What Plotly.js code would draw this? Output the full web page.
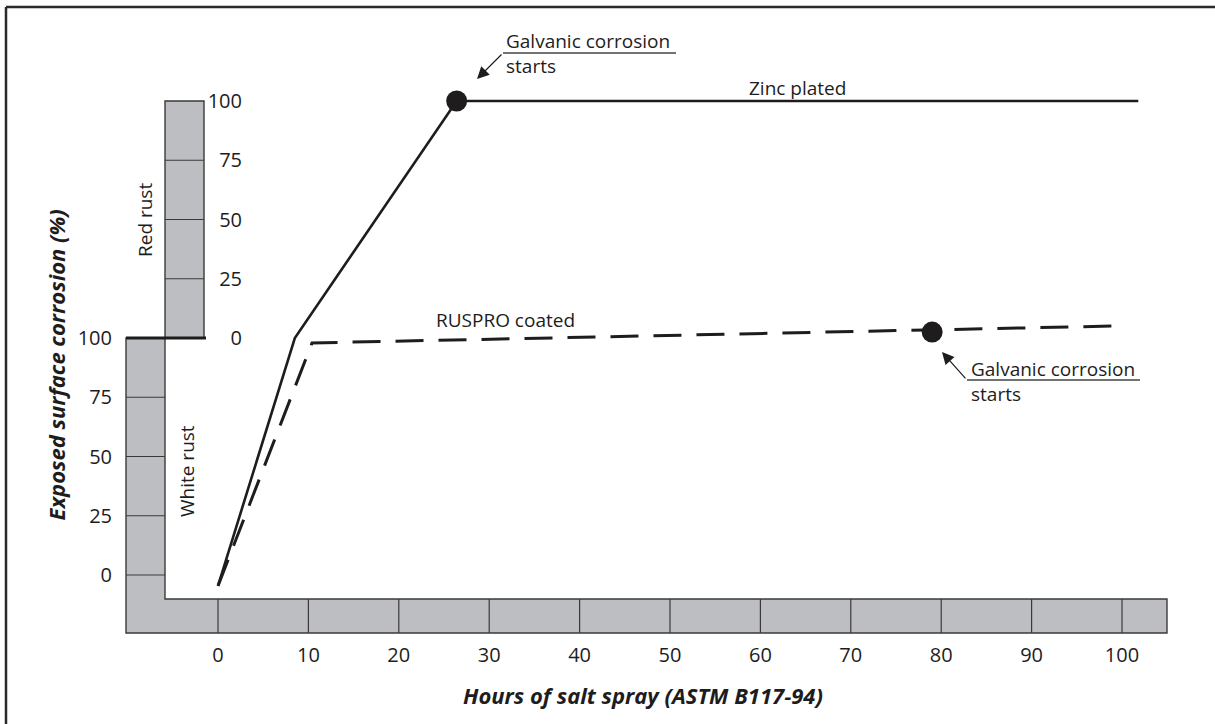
<!DOCTYPE html>
<html>
<head>
<meta charset="utf-8">
<script src="https://cdn.plot.ly/plotly-3.0.1.min.js"></script>
<style>
  html, body { margin: 0; padding: 0; background: #ffffff; }
  #chart { width: 1215px; height: 724px; }
</style>
</head>
<body>
<div id="chart"></div>
<script>
// ---------- data ----------
const hourTicks = [0, 10, 20, 30, 40, 50, 60, 70, 80, 90, 100];
const hourTickText = ['0', '10', '20', '30', '40', '50', '60', '70', '80', '90', '100'];

// stacked corrosion scale: white rust 0-100 below, red rust 0-100 stacked above (offset 100)
const whiteRustTicks = [0, 25, 50, 75, 100];
const whiteRustTickText = ['0', '25', '50', '75', '100'];
const redRustTicks = [100, 125, 150, 175, 200];
const redRustTickText = ['0', '25', '50', '75', '100'];

const zincHours = [0, 8.5, 26.4, 101.8];
const zincCorrosion = [-4.6, 100, 200, 200];

const rusproHours = [0, 10.4, 99.6];
const rusproCorrosion = [-4.6, 97.9, 105.1];

const galvanicHours = [26.4, 79];
const galvanicCorrosion = [200, 102.5];

// ---------- pixel helpers for layout positions ----------
const W = 1215, H = 724;
const PX_X = 9.04, X0 = 218;     // px per hour, px of hour 0
const PX_Y = 2.37, Y0 = 575;     // px per %, px of white 0
const fx = p => (p - X0) / PX_X;
const fy = p => (Y0 - p) / PX_Y;

const ink = '#1e1c1d';
const gray = '#bdbec1';
const edge = '#3a3a3a';
const FONT = '"Open Sans", Lato, sans-serif';

// ---------- shapes ----------
const xL = fx(126), xM = fx(165), xRed = fx(204), xBandR = fx(1167);
const yBandTop = fy(599), yBandBot = fy(633);

const shapes = [];
// L-shaped white rust / hours band
shapes.push({
  type: 'path', xref: 'x', yref: 'y', layer: 'below',
  path: `M${xL},100 L${xM},100 L${xM},${yBandTop} L${xBandR},${yBandTop} L${xBandR},${yBandBot} L${xL},${yBandBot} Z`,
  fillcolor: gray, line: { color: edge, width: 1.4 }
});
// red rust column
shapes.push({
  type: 'rect', xref: 'x', yref: 'y', layer: 'below',
  x0: xM, x1: xRed, y0: 100, y1: 200,
  fillcolor: gray, line: { color: edge, width: 1.4 }
});
// cell dividers along hours band
hourTicks.forEach(h => shapes.push({
  type: 'line', xref: 'x', yref: 'y', layer: 'below',
  x0: h, x1: h, y0: yBandTop, y1: yBandBot, line: { color: edge, width: 1.2 }
}));
// cell dividers in white rust column
whiteRustTicks.filter(v => v < 100).forEach(v => shapes.push({
  type: 'line', xref: 'x', yref: 'y', layer: 'below',
  x0: xL, x1: xM, y0: v, y1: v, line: { color: edge, width: 1.2 }
}));
// cell dividers in red rust column
redRustTicks.filter(v => v > 100 && v < 200).forEach(v => shapes.push({
  type: 'line', xref: 'x', yref: 'y', layer: 'below',
  x0: xM, x1: xRed, y0: v, y1: v, line: { color: edge, width: 1.2 }
}));
// thick boundary white/red
shapes.push({
  type: 'line', xref: 'x', yref: 'y',
  x0: xL, x1: fx(206), y0: 100, y1: 100, line: { color: ink, width: 3 }
});
// callout underlines
shapes.push({
  type: 'line', xref: 'x', yref: 'y',
  x0: fx(503), x1: fx(676), y0: fy(53), y1: fy(53), line: { color: '#444', width: 1.3 }
});
shapes.push({
  type: 'line', xref: 'x', yref: 'y',
  x0: fx(967), x1: fx(1140), y0: fy(380), y1: fy(380), line: { color: '#444', width: 1.3 }
});
// outer frame (top and left edges; right/bottom fall outside the picture)
shapes.push({
  type: 'line', xref: 'paper', yref: 'paper',
  x0: 6 / W, x1: 1, y0: 1 - 7 / H, y1: 1 - 7 / H,
  line: { color: '#2a2a2a', width: 2.5 }
});
shapes.push({
  type: 'line', xref: 'paper', yref: 'paper',
  x0: 6 / W, x1: 6 / W, y0: 0, y1: 1 - 7 / H,
  line: { color: '#2a2a2a', width: 2.5 }
});

// ---------- traces ----------
const traces = [
  {
    x: zincHours, y: zincCorrosion, type: 'scatter', mode: 'lines',
    line: { color: ink, width: 2.6 }, hoverinfo: 'skip', name: 'Zinc plated'
  },
  {
    x: rusproHours, y: rusproCorrosion, type: 'scatter', mode: 'lines',
    line: { color: ink, width: 3, dash: '28px,15px' }, hoverinfo: 'skip', name: 'RUSPRO coated'
  },
  {
    x: galvanicHours, y: galvanicCorrosion, type: 'scatter', mode: 'markers',
    marker: { color: ink, size: 21 }, hoverinfo: 'skip', name: 'Galvanic corrosion starts'
  },
  {
    x: [0], y: [150], yaxis: 'y2', type: 'scatter', mode: 'markers',
    marker: { opacity: 0 }, hoverinfo: 'skip', showlegend: false
  }
];

// ---------- annotations ----------
const txt = (x, y, text, extra) => Object.assign({
  xref: 'x', yref: 'y', x, y, text, showarrow: false,
  font: { family: FONT, size: 19, color: ink }
}, extra || {});

const annotations = [
  txt(fx(504), fy(53), 'Galvanic corrosion<br>starts', { xanchor: 'left', yanchor: 'middle', align: 'left' }),
  txt(fx(969), fy(381), 'Galvanic corrosion<br>starts', { xanchor: 'left', yanchor: 'middle', align: 'left' }),
  txt(fx(797), fy(88), 'Zinc plated'),
  txt(fx(505), fy(320), 'RUSPRO coated'),
  txt(fx(145), fy(220), 'Red rust', { textangle: -90 }),
  txt(fx(187), fy(471), 'White rust', { textangle: -90 }),
  {
    xref: 'x', yref: 'y', x: fx(477), y: fy(79), ax: fx(503), ay: fy(53),
    axref: 'x', ayref: 'y', text: ' ', showarrow: true, arrowhead: 2,
    arrowsize: 2, arrowwidth: 1.2, arrowcolor: ink, standoff: 0, font: { size: 1 }
  },
  {
    xref: 'x', yref: 'y', x: fx(942), y: fy(352), ax: fx(967), ay: fy(380),
    axref: 'x', ayref: 'y', text: ' ', showarrow: true, arrowhead: 2,
    arrowsize: 2, arrowwidth: 1.2, arrowcolor: ink, standoff: 0, font: { size: 1 }
  },
  {
    xref: 'paper', yref: 'y', x: 55 / W, y: fy(523), xanchor: 'center', yanchor: 'bottom',
    text: '<b><i>Exposed surface corrosion (%)</i></b>', textangle: -90, showarrow: false,
    font: { family: FONT, size: 22, color: ink }
  },
  {
    xref: 'x', yref: 'y', x: fx(825), y: fy(695), xanchor: 'right', yanchor: 'middle',
    text: '<b><i>Hours of salt spray (ASTM B117-94)</i></b>', showarrow: false,
    font: { family: FONT, size: 22, color: ink }
  }
];

const tickFont = { family: FONT, size: 20, color: ink };

const layout = {
  width: W, height: H,
  margin: { l: 0, r: 0, t: 0, b: 0, pad: 0 },
  paper_bgcolor: '#ffffff', plot_bgcolor: '#ffffff',
  showlegend: false,
  xaxis: {
    range: [fx(0), fx(W)], anchor: 'free', position: 1 - 641 / H,
    tickvals: hourTicks, ticktext: hourTickText, tickfont: tickFont,
    showgrid: false, zeroline: false, showline: false, ticks: ''
  },
  yaxis: {
    range: [fy(H), fy(0)], anchor: 'free', position: 112 / W, side: 'left',
    tickvals: whiteRustTicks, ticktext: whiteRustTickText, tickfont: tickFont,
    showgrid: false, zeroline: false, showline: false, ticks: ''
  },
  yaxis2: {
    range: [fy(H), fy(0)], overlaying: 'y', anchor: 'free', position: 242 / W, side: 'left',
    tickvals: redRustTicks, ticktext: redRustTickText, tickfont: tickFont,
    showgrid: false, zeroline: false, showline: false, ticks: ''
  },
  shapes, annotations
};

Plotly.newPlot('chart', traces, layout, { displayModeBar: false, staticPlot: true });
</script>
</body>
</html>
